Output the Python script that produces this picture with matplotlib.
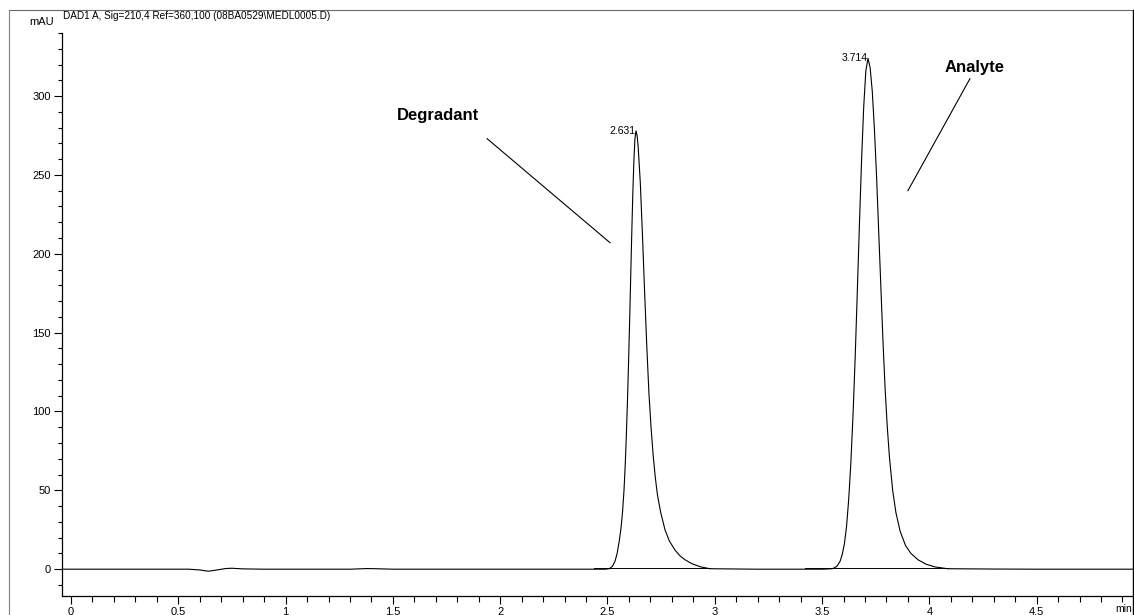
import matplotlib.pyplot as plt
from matplotlib.lines import Line2D
from matplotlib.ticker import MultipleLocator

tiempo = [-0.04, 0.30, 0.55, 0.60, 0.64, 0.68, 0.72, 0.75, 0.80, 0.90,
          1.30, 1.38, 1.42, 1.50, 2.00, 2.40, 2.49,
          # pico 1
          2.508, 2.523, 2.535, 2.545, 2.555, 2.563, 2.570, 2.577, 2.583, 2.588,
          2.593, 2.598, 2.603, 2.608, 2.613, 2.618, 2.623, 2.628, 2.633,
          2.638, 2.643, 2.653, 2.663, 2.673, 2.683, 2.693, 2.703, 2.713, 2.723,
          2.733, 2.748, 2.768, 2.788, 2.815, 2.838, 2.861, 2.893, 2.933, 2.978,
          3.20, 3.50,
          # pico 2
          3.549, 3.569, 3.584, 3.594, 3.604, 3.614, 3.624, 3.634, 3.644, 3.654,
          3.664, 3.674, 3.684, 3.694, 3.704, 3.714,
          3.724, 3.734, 3.744, 3.754, 3.764, 3.774, 3.784, 3.794, 3.804, 3.814,
          3.829, 3.844, 3.864, 3.889, 3.914, 3.947, 3.984, 4.024, 4.084,
          4.30, 4.50, 4.95]
senal = [0, 0, 0, -0.5, -1.3, -0.5, 0.4, 0.6, 0.2, 0,
         0, 0.4, 0.3, 0, 0, 0, 0,
         0.3, 1.8, 5, 10, 18, 26, 36, 50, 67, 85,
         106, 130, 156, 184, 212, 238, 259, 273, 278,
         275, 268, 245, 212, 176, 142, 112, 90, 72, 58,
         47, 36, 25, 18, 12, 8.5, 6, 3.5, 1.5, 0.3,
         0, 0,
         0.3, 1.8, 5, 9.3, 16, 27, 44, 67, 97, 133,
         175, 218, 259, 293, 316, 324,
         318, 303, 279, 249, 214, 179, 144, 114, 90, 71,
         50, 36, 24, 15, 10, 6, 3.2, 1.5, 0.3,
         0.1, 0, 0]

# Picos identificados
picos_t = [2.631, 3.714]
picos_h = [278, 324]
picos_txt = ['2.631', '3.714']

# Líneas base de integración
base_ini = [2.437, 3.420]
base_fin = [2.978, 4.087]
base_nivel = [0.9, 0.9]

plt.rcParams['font.family'] = ['Liberation Sans', 'DejaVu Sans']

fig = plt.figure(figsize=(11.34, 6.15), dpi=100)
ax = fig.add_axes([62 / 1134, 19 / 615, (1133 - 62) / 1134, (596 - 33) / 615])

ax.plot(tiempo, senal, color='black', lw=0.8)
for a, b, n in zip(base_ini, base_fin, base_nivel):
    ax.plot([a, b], [n, n], color='black', lw=0.7)

for t, h, txt in zip(picos_t, picos_h, picos_txt):
    ax.text(t, h, txt, ha='right', va='center', fontsize=7.5)

# Anotaciones
ax.text(1.71, 288, 'Degradant', fontsize=12, fontweight='bold', ha='center', va='center')
ax.plot([1.939, 2.512], [273, 207], color='black', lw=0.8)
ax.text(4.213, 318, 'Analyte', fontsize=12, fontweight='bold', ha='center', va='center')
ax.plot([4.189, 3.900], [311, 240], color='black', lw=0.8)

ax.set_xlim(-0.042, 4.949)
ax.set_ylim(-17, 340)
ax.xaxis.set_minor_locator(MultipleLocator(0.1))
ax.yaxis.set_minor_locator(MultipleLocator(10))
ax.set_xticks([0, 0.5, 1, 1.5, 2, 2.5, 3, 3.5, 4, 4.5])
ax.set_xticklabels(['0', '0.5', '1', '1.5', '2', '2.5', '3', '3.5', '4', '4.5'])
ax.set_yticks([0, 50, 100, 150, 200, 250, 300])
ax.tick_params(axis='both', which='major', labelsize=8, width=0.8, length=6, pad=2)
ax.tick_params(axis='both', which='minor', width=0.8, length=4)
ax.tick_params(axis='y', which='minor', length=3)
ax.spines['top'].set_visible(False)
ax.spines['right'].set_visible(False)
for s in ['left', 'bottom']:
    ax.spines[s].set_linewidth(0.9)

ax.text(-0.079, 347, 'mAU', fontsize=8, ha='right', va='center', clip_on=False)
ax.text(4.945, -25, 'min', fontsize=7.5, ha='right', va='center', clip_on=False)
fig.text(63 / 1134, 1 - 16 / 615, 'DAD1 A, Sig=210,4 Ref=360,100 (08BA0529\\MEDL0005.D)',
         fontsize=7.2, ha='left', va='center')

# Marco exterior
fig.add_artist(Line2D([9 / 1134, 9 / 1134], [0, 1 - 10 / 615], color='gray', lw=0.8))
fig.add_artist(Line2D([9 / 1134, 1133 / 1134], [1 - 10 / 615, 1 - 10 / 615], color='dimgray', lw=0.8))
fig.add_artist(Line2D([1133 / 1134, 1133 / 1134], [0, 1 - 10 / 615], color='black', lw=1.0))

fig.savefig('out.png', dpi=100)
